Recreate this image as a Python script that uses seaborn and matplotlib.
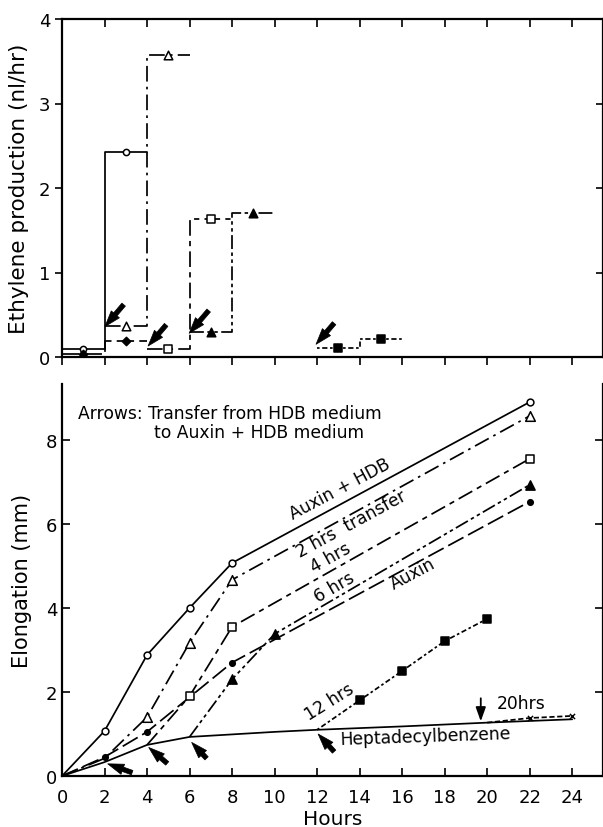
import matplotlib
matplotlib.use("Agg")
import matplotlib.pyplot as plt
import seaborn as sns
import numpy as np

sns.set_theme(style="ticks")
plt.rcParams['font.family'] = ['DejaVu Sans']
plt.rcParams.update({"text.color": "black", "axes.labelcolor": "black",
                     "xtick.color": "black", "ytick.color": "black",
                     "axes.edgecolor": "black"})

# ---------------- top panel data: ethylene production (step intervals) ----------------
top_series = ["Auxin+HDB", "Auxin", "2 hrs", "4 hrs", "6 hrs", "12 hrs"]
eth_start = {"Auxin+HDB": [0, 2], "Auxin": [0, 2], "2 hrs": [2, 4],
             "4 hrs": [4, 6], "6 hrs": [6, 8], "12 hrs": [12, 14]}
eth_end = {"Auxin+HDB": [2, 4], "Auxin": [2, 4], "2 hrs": [4, 6],
           "4 hrs": [6, 8], "6 hrs": [8, 10], "12 hrs": [14, 16]}
eth_value = {"Auxin+HDB": [0.09, 2.43], "Auxin": [0.04, 0.19], "2 hrs": [0.37, 3.57],
             "4 hrs": [0.10, 1.63], "6 hrs": [0.30, 1.71], "12 hrs": [0.11, 0.21]}

# arrows (transfer) in top panel: tail -> tip
top_arrow_tail_x = [2.9, 4.9, 6.9, 12.8]
top_arrow_tail_y = [0.62, 0.38, 0.55, 0.40]
top_arrow_tip_x = [2.02, 4.05, 5.98, 11.95]
top_arrow_tip_y = [0.36, 0.13, 0.28, 0.15]

# ---------------- bottom panel data: elongation ----------------
hours_ticks = list(range(0, 26, 2))
el_x = {
    "Auxin+HDB": [0, 2, 4, 6, 8, 22],
    "2 hrs": [0, 2, 4, 6, 8, 22],
    "4 hrs": [4, 6, 8, 22],
    "6 hrs": [6, 8, 10, 22],
    "Auxin": [0, 2, 4, 8, 22],
    "12 hrs": [12, 14, 16, 18, 20],
    "HDB": [0, 2, 4, 6, 8, 10, 12, 16, 20, 24],
    "20 hrs": [20, 22, 24],
}
el_y = {
    "Auxin+HDB": [0, 1.07, 2.88, 4.00, 5.07, 8.90],
    "2 hrs": [0, 0.42, 1.40, 3.17, 4.67, 8.57],
    "4 hrs": [0.74, 1.90, 3.55, 7.55],
    "6 hrs": [0.93, 2.30, 3.38, 6.93],
    "Auxin": [0, 0.45, 1.05, 2.70, 6.53],
    "12 hrs": [1.10, 1.80, 2.50, 3.21, 3.74],
    "HDB": [0, 0.33, 0.74, 0.93, 0.99, 1.05, 1.10, 1.18, 1.27, 1.35],
    "20 hrs": [1.27, 1.38, 1.43],
}
# which points carry a marker
el_mark_x = {
    "Auxin+HDB": [2, 4, 6, 8, 22],
    "2 hrs": [4, 6, 8, 22],
    "4 hrs": [6, 8, 22],
    "6 hrs": [8, 10, 22],
    "Auxin": [2, 4, 8, 22],
    "12 hrs": [14, 16, 18, 20],
    "20 hrs": [22, 24],
}
bot_arrow_tail_x = [3.3, 4.95, 6.8, 12.8]
bot_arrow_tail_y = [0.08, 0.30, 0.42, 0.58]
bot_arrow_tip_x = [2.15, 4.08, 6.1, 12.05]
bot_arrow_tip_y = [0.29, 0.68, 0.80, 1.00]

# ---------------- styles ----------------
ls = {
    "Auxin+HDB": "-",
    "2 hrs": (0, (9, 3, 1.5, 3)),
    "4 hrs": (0, (9, 3, 3, 3)),
    "6 hrs": (0, (8, 2, 2, 2, 2, 2)),
    "Auxin": (0, (10, 3)),
    "12 hrs": (0, (1.5, 1.5, 3, 1.5)),
    "HDB": "-",
    "20 hrs": (0, (3, 1.5)),
}
mk = {"Auxin+HDB": "o", "2 hrs": "^", "4 hrs": "s", "6 hrs": "^", "Auxin": "o",
      "12 hrs": "s", "20 hrs": "x"}
mfill = {"Auxin+HDB": "white", "2 hrs": "white", "4 hrs": "white", "6 hrs": "black",
         "Auxin": "black", "12 hrs": "black", "20 hrs": "black"}
msize_top = {"Auxin+HDB": 20, "Auxin": 18, "2 hrs": 38, "4 hrs": 32, "6 hrs": 38, "12 hrs": 32}
msize_bot = {"Auxin+HDB": 24, "2 hrs": 48, "4 hrs": 36, "6 hrs": 44, "Auxin": 16,
             "12 hrs": 34, "20 hrs": 14}
top_mk = {"Auxin+HDB": "o", "Auxin": "D", "2 hrs": "^", "4 hrs": "s", "6 hrs": "^", "12 hrs": "s"}

ARROW = dict(arrowstyle="simple,head_length=1.05,head_width=0.7,tail_width=0.3",
             fc="black", ec="black", lw=0.5, shrinkA=0, shrinkB=0, mutation_scale=11)

LW = 1.25
fig = plt.figure(figsize=(6.03, 8.28), dpi=100)
ax1 = fig.add_axes([62 / 603, 1 - 358 / 828, 541 / 603, 338 / 828])
ax2 = fig.add_axes([62 / 603, 1 - 777 / 828, 541 / 603, 392 / 828])

XMAX = 25.45

# ---------------- top panel ----------------
for s in top_series:
    xs, ys = [], []
    for a, b, v in zip(eth_start[s], eth_end[s], eth_value[s]):
        xs += [a, b]
        ys += [v, v]
    sns.lineplot(x=xs, y=ys, ax=ax1, sort=False, estimator=None, color="black",
                 lw=LW, linestyle=ls[s])
    mx = [(a + b) / 2 for a, b in zip(eth_start[s], eth_end[s])]
    sns.scatterplot(x=mx, y=eth_value[s], ax=ax1, marker=top_mk[s], s=msize_top[s],
                    facecolor=mfill[s], edgecolor="black", linewidth=1.1, zorder=5)

for tx, ty, hx, hy in zip(top_arrow_tail_x, top_arrow_tail_y, top_arrow_tip_x, top_arrow_tip_y):
    ax1.annotate("", xy=(hx, hy), xytext=(tx, ty), arrowprops=ARROW)

ax1.set_xlim(0, XMAX)
ax1.set_ylim(0, 4)
ax1.set_xticks(hours_ticks)
ax1.set_xticklabels([])
ax1.set_yticks([0, 1, 2, 3, 4])
ax1.set_yticklabels(["0", "1", "2", "3", "4"])
ax1.tick_params(axis="x", which="both", direction="out", length=6, width=1.2, top=True)
ax1.tick_params(axis="y", direction="out", length=5, width=1.2, right=True, labelsize=13)
for sp in ax1.spines.values():
    sp.set_linewidth(1.6)
    sp.set_color("black")
ax1.set_ylabel("Ethylene production (nl/hr)", fontsize=15.5, labelpad=7)
for t in ax1.xaxis.get_major_ticks():
    t.tick2line.set_marker(matplotlib.lines.TICKDOWN)
for t in ax1.yaxis.get_major_ticks():
    t.tick2line.set_marker(matplotlib.lines.TICKLEFT)

# ---------------- bottom panel ----------------
order = ["HDB", "Auxin+HDB", "2 hrs", "4 hrs", "6 hrs", "Auxin", "12 hrs", "20 hrs"]
for s in order:
    sns.lineplot(x=el_x[s], y=el_y[s], ax=ax2, sort=False, estimator=None, color="black",
                 lw=LW, linestyle=ls[s])
for s, xs in el_mark_x.items():
    ys = [el_y[s][el_x[s].index(x)] for x in xs]
    if s == "20 hrs":
        sns.scatterplot(x=xs, y=ys, ax=ax2, marker="x", s=msize_bot[s], color="black",
                        linewidth=1.0, zorder=5)
    else:
        sns.scatterplot(x=xs, y=ys, ax=ax2, marker=mk[s], s=msize_bot[s],
                        facecolor=mfill[s], edgecolor="black", linewidth=1.1, zorder=5)

for tx, ty, hx, hy in zip(bot_arrow_tail_x, bot_arrow_tail_y, bot_arrow_tip_x, bot_arrow_tip_y):
    ax2.annotate("", xy=(hx, hy), xytext=(tx, ty), arrowprops=ARROW)
# 20 hrs down arrow
ax2.annotate("", xy=(19.7, 1.30), xytext=(19.7, 1.85),
             arrowprops=dict(arrowstyle="-|>,head_length=0.7,head_width=0.25",
                             fc="black", ec="black", lw=1.3, shrinkA=0, shrinkB=0))

tfs = 12.3
ax2.text(0.75, 8.65, "Arrows: Transfer from HDB medium", fontsize=tfs, ha="left", va="center")
ax2.text(4.35, 8.18, "to Auxin + HDB medium", fontsize=tfs, ha="left", va="center")
ax2.text(13.05, 6.85, "Auxin + HDB", fontsize=tfs, rotation=28, ha="center", va="center")
ax2.text(13.6, 6.02, "2 hrs  transfer", fontsize=tfs, rotation=28.5, ha="center", va="center")
ax2.text(12.65, 5.22, "4 hrs", fontsize=tfs, rotation=29, ha="center", va="center")
ax2.text(12.8, 4.50, "6 hrs", fontsize=tfs, rotation=30, ha="center", va="center")
ax2.text(16.5, 4.82, "Auxin", fontsize=tfs, rotation=28, ha="center", va="center")
ax2.text(12.6, 1.78, "12 hrs", fontsize=tfs, rotation=32, ha="center", va="center")
ax2.text(21.6, 1.74, "20hrs", fontsize=tfs, ha="center", va="center")
ax2.text(17.1, 0.95, "Heptadecylbenzene", fontsize=tfs, rotation=2, ha="center", va="center")

ax2.set_xlim(0, XMAX)
ax2.set_ylim(0, 9.33)
ax2.set_xticks(hours_ticks)
ax2.set_xticklabels([str(h) for h in hours_ticks])
ax2.set_yticks([0, 2, 4, 6, 8])
ax2.tick_params(axis="both", direction="in", length=6, width=1.2, labelsize=13)
ax2.tick_params(axis="y", right=True)
ax2.tick_params(axis="x", pad=9)
ax2.spines["top"].set_visible(False)
for k in ["left", "bottom", "right"]:
    ax2.spines[k].set_linewidth(1.6)
    ax2.spines[k].set_color("black")
ax2.set_xlabel("Hours", fontsize=14.5, labelpad=2)
ax2.set_ylabel("Elongation (mm)", fontsize=15, labelpad=10)

fig.savefig("out.png", dpi=100)
